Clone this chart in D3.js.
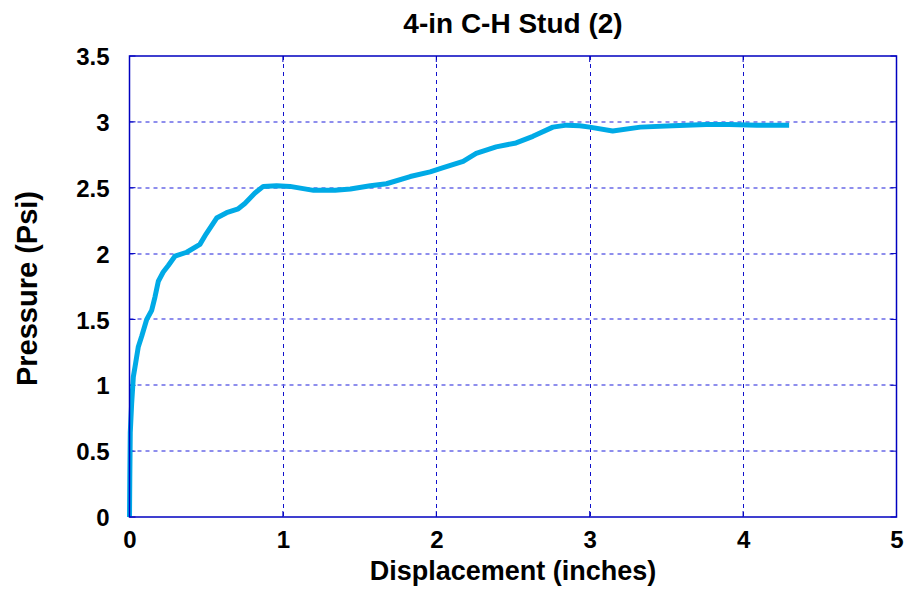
<!DOCTYPE html>
<html><head><meta charset="utf-8">
<script src="https://cdn.jsdelivr.net/npm/d3@7"></script>
<style>body{margin:0;background:#fff}svg{display:block}text{font-family:"Liberation Sans",Arial,sans-serif;font-weight:bold;fill:#000}</style>
</head><body>
<svg id="c" width="909" height="595"></svg>
<script>
const title = "4-in C-H Stud (2)";
const xLabel = "Displacement (inches)";
const yLabel = "Pressure (Psi)";
const xTicks = [0, 1, 2, 3, 4, 5];
const yTicks = [0, 0.5, 1, 1.5, 2, 2.5, 3, 3.5];
const dispX = [0, 0.002, 0.005, 0.014, 0.025, 0.036, 0.057, 0.079, 0.112, 0.145, 0.166, 0.188, 0.22, 0.253, 0.296, 0.373, 0.459, 0.50, 0.568, 0.633, 0.709, 0.752, 0.818, 0.872, 0.959, 1.046, 1.20, 1.34, 1.44, 1.57, 1.675, 1.83, 1.96, 2.04, 2.175, 2.26, 2.39, 2.52, 2.63, 2.76, 2.85, 2.935, 3.0, 3.15, 3.33, 3.54, 3.76, 3.91, 4.09, 4.30];
const pressY = [0, 0.30, 0.64, 0.86, 1.065, 1.14, 1.29, 1.37, 1.50, 1.57, 1.67, 1.79, 1.86, 1.91, 1.98, 2.01, 2.07, 2.15, 2.27, 2.31, 2.34, 2.38, 2.46, 2.51, 2.515, 2.51, 2.48, 2.48, 2.49, 2.515, 2.53, 2.585, 2.62, 2.65, 2.70, 2.76, 2.81, 2.84, 2.89, 2.96, 2.975, 2.97, 2.96, 2.93, 2.96, 2.97, 2.98, 2.98, 2.975, 2.975];

const svg = d3.select("#c");
const L = 129.5, R = 896.5, T = 56, B = 517;
const x = d3.scaleLinear().domain([0, 5]).range([L, R]);
const y = d3.scaleLinear().domain([0, 3.5]).range([B, T]);

// grid
svg.append("g").selectAll("line").data(xTicks.filter(d => d > 0 && d < 5)).join("line")
  .attr("x1", d => Math.round(x(d)) + 0.5).attr("x2", d => Math.round(x(d)) + 0.5)
  .attr("y1", T).attr("y2", B)
  .attr("stroke", "#1010cc").attr("stroke-width", 1).attr("stroke-dasharray", "4,4");
svg.append("g").selectAll("line").data(yTicks.filter(d => d > 0 && d < 3.5)).join("line")
  .attr("x1", L).attr("x2", R)
  .attr("y1", d => Math.round(y(d))).attr("y2", d => Math.round(y(d)))
  .attr("stroke", "#6a6ae8").attr("stroke-width", 1.3).attr("stroke-dasharray", "4,4");

// small tick marks at frame
const tk = svg.append("g").attr("stroke", "#0000c0").attr("stroke-width", 1);
xTicks.forEach(d => {
  tk.append("line").attr("x1", x(d)).attr("x2", x(d)).attr("y1", B).attr("y2", B - 6);
  tk.append("line").attr("x1", x(d)).attr("x2", x(d)).attr("y1", T).attr("y2", T + 6);
});
yTicks.forEach(d => {
  tk.append("line").attr("x1", L).attr("x2", L + 6).attr("y1", y(d)).attr("y2", y(d));
  tk.append("line").attr("x1", R).attr("x2", R - 6).attr("y1", y(d)).attr("y2", y(d));
});

// curve
const pts = dispX.map((d, i) => [d, pressY[i]]);
svg.append("path").datum(pts)
  .attr("d", d3.line().x(d => x(d[0])).y(d => y(d[1])))
  .attr("fill", "none").attr("stroke", "#00aae6").attr("stroke-width", 5)
  .attr("stroke-linejoin", "round");

// frame
svg.append("rect").attr("x", L).attr("y", T).attr("width", R - L).attr("height", B - T)
  .attr("fill", "none").attr("stroke", "#0000c0").attr("stroke-width", 1.5);

// tick labels via axes
const xa = svg.append("g").attr("transform", `translate(0,${B})`)
  .call(d3.axisBottom(x).tickValues(xTicks).tickSize(0).tickPadding(0).tickFormat(d3.format("")));
xa.select(".domain").remove();
xa.selectAll("text").attr("dy", null).attr("y", 31).style("font-size", "24px")
  .style("font-family", '"Liberation Sans",Arial,sans-serif').style("font-weight", "bold");

const ya = svg.append("g").attr("transform", `translate(${L},0)`)
  .call(d3.axisLeft(y).tickValues(yTicks).tickSize(0).tickPadding(0).tickFormat(d3.format("")));
ya.select(".domain").remove();
ya.selectAll("text").attr("x", -20).attr("dy", "0.36em").style("font-size", "24px")
  .style("font-family", '"Liberation Sans",Arial,sans-serif').style("font-weight", "bold");

svg.append("text").attr("x", (L + R) / 2).attr("y", 33).attr("text-anchor", "middle")
  .style("font-size", "28px").text(title);
svg.append("text").attr("x", (L + R) / 2).attr("y", 580).attr("text-anchor", "middle")
  .style("font-size", "27px").text(xLabel);
svg.append("text").attr("transform", `translate(37,${(T + B) / 2 + 2}) rotate(-90)`).attr("text-anchor", "middle")
  .style("font-size", "29px").text(yLabel);
</script>
</body></html>
